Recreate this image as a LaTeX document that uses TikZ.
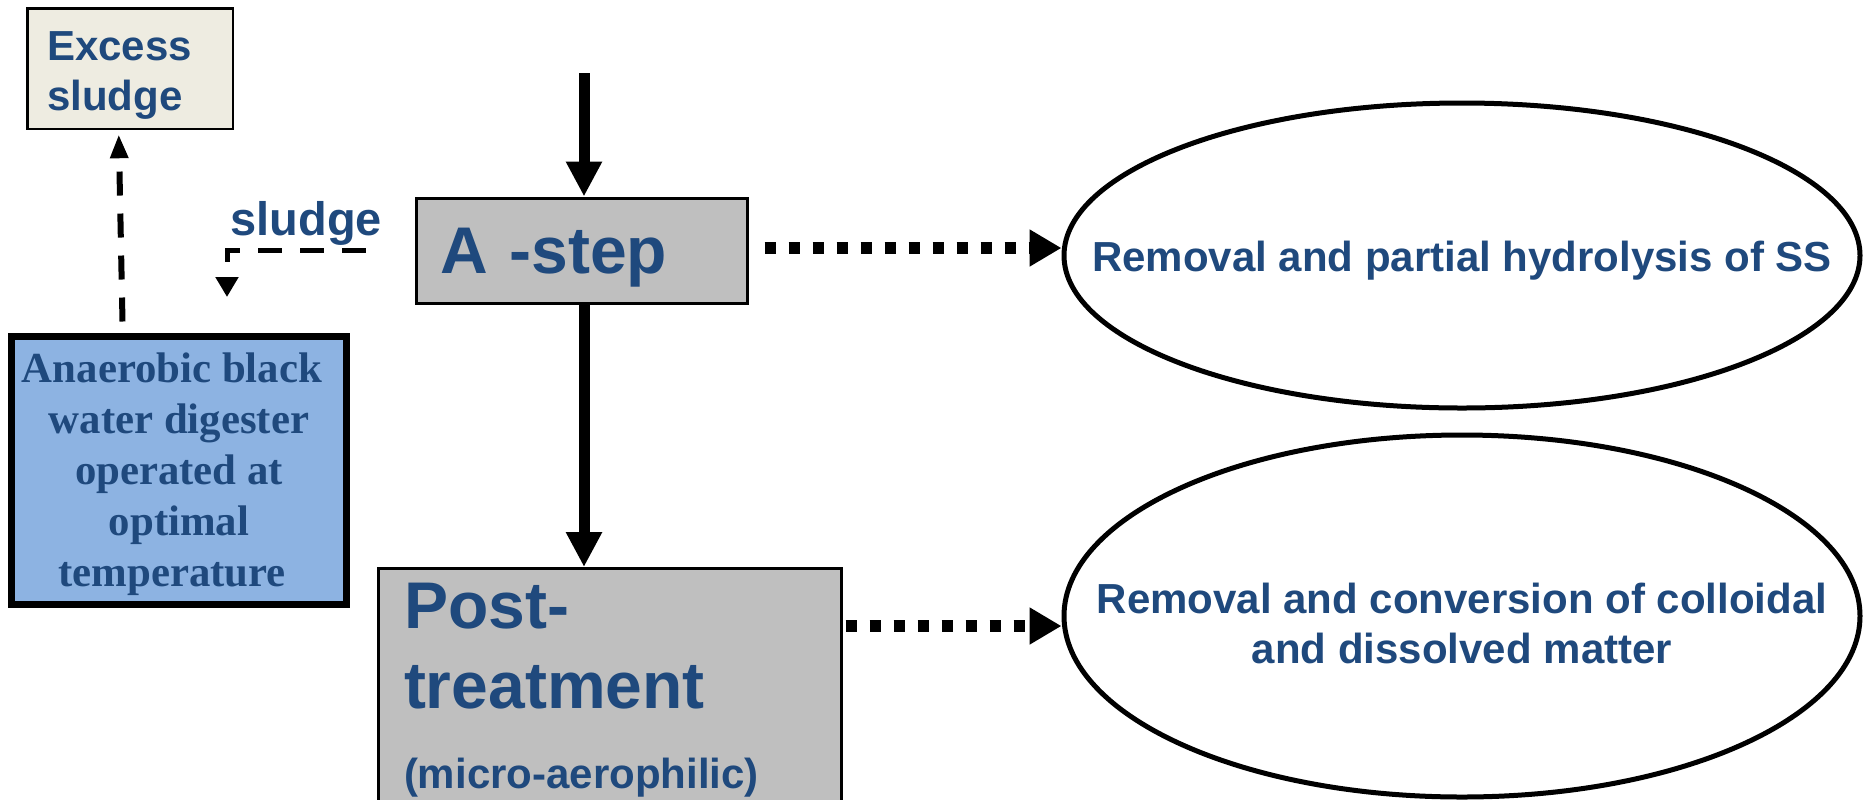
\documentclass[tikz,border=0pt]{standalone}
\usepackage{fontspec}
\setmainfont{Liberation Sans}
\newfontfamily\timesfont{Liberation Serif}
\usetikzlibrary{arrows.meta,shapes.geometric,calc}
\definecolor{txtblue}{HTML}{1F497D}
\definecolor{boxgray}{HTML}{BFBFBF}
\definecolor{paper}{HTML}{EEECE1}
\definecolor{digblue}{HTML}{8DB3E2}
\begin{document}
\begin{tikzpicture}[x=0.5pt,y=-0.5pt,
  every node/.style={inner sep=0pt,text=txtblue},
  stepbox/.style={draw=black,fill=boxgray,line width=1.5pt,align=left},
  bubble/.style={draw=black,fill=white,ellipse,line width=2.5pt,minimum width=398pt,font=\fontsize{21}{25}\selectfont\bfseries},
  flow/.style={line width=5.5pt,-{Triangle[length=17.5pt,width=17pt]}},
  effect/.style={line width=6pt,dash pattern=on 5.5pt off 6.5pt,-{Triangle[length=16pt,width=17.5pt]},shorten <=8pt},
  sludgeline/.style={line width=3pt,dash pattern=on 12pt off 9pt,-{Triangle[length=12pt,width=8.5pt]}}]
\useasboundingbox (0,0) rectangle (1863,799);
\node [draw=black,fill=paper,line width=1.25pt,minimum width=102.75pt,minimum height=60.25pt,text width=82.75pt,text height=21pt,align=left,font=\fontsize{21}{25}\selectfont\bfseries] (xs) at (130,68.5) {Excess\\sludge};
\node [draw=black,fill=digblue,line width=3.5pt,minimum width=167.5pt,minimum height=134pt,text height=121pt,align=center,font=\fontsize{21.4}{25.5}\selectfont\timesfont\bfseries] (adb) at (179,470.5) {Anaerobic black\hspace*{7pt}\\water digester\hspace*{7pt}\\operated at\hspace*{7pt}\\optimal\hspace*{7pt}\\temperature\hspace*{7pt}};
\node [stepbox,minimum width=165.5pt,minimum height=52.5pt,text width=141.5pt,text depth=0pt,font=\fontsize{33}{40}\selectfont\bfseries] (astep) at (581.5,250.5) {A -step};
\node [stepbox,anchor=north,minimum width=231.5pt,minimum height=122pt,text width=205.5pt,font=\fontsize{33}{40}\selectfont\bfseries] (post) at (609.5,567) {Post-\\treatment\\\fontsize{21}{25}\selectfont(micro-aerophilic)};
\node [bubble,minimum height=152.5pt,text height=15.5pt,text depth=0pt] (e1) at (1462,255.5) {\makebox[0pt]{Removal and partial hydrolysis of SS}};
\node [bubble,minimum height=181pt,text height=0pt,text depth=3pt] (e2) at (1462,616) {\makebox[0pt]{\begin{tabular}[t]{@{}c@{}}Removal and conversion of colloidal\\and dissolved matter\end{tabular}}};
\node [anchor=base west,font=\fontsize{23.5}{28}\selectfont\bfseries] (lbl) at (230,235) {sludge};
\coordinate (feed) at (584,73);
\coordinate (drop) at (227,297);
\coordinate (pout) at ($(post.north east)+(0,59)$);
\draw [flow] (feed) -- (feed |- astep.north);
\draw [flow] (feed |- astep.south) -- (feed |- post.north);
\draw [effect] ($(astep.east)+(0,-2.5)$) -- ($(astep.east -| e1.west)+(0,-2.5)$);
\draw [effect,shorten <=1.5pt] (pout) -- (pout -| e2.west);
\draw [sludgeline,line width=2.5pt,-{Triangle[length=10pt,width=11pt]}] ($(astep.west)+(-49,0)$) -| (drop);
\draw [sludgeline] ($(adb.north west)+(114.5,-11.5)$) -- ($(xs.south west)+(92.75,4.25)$);
\end{tikzpicture}
\end{document}
